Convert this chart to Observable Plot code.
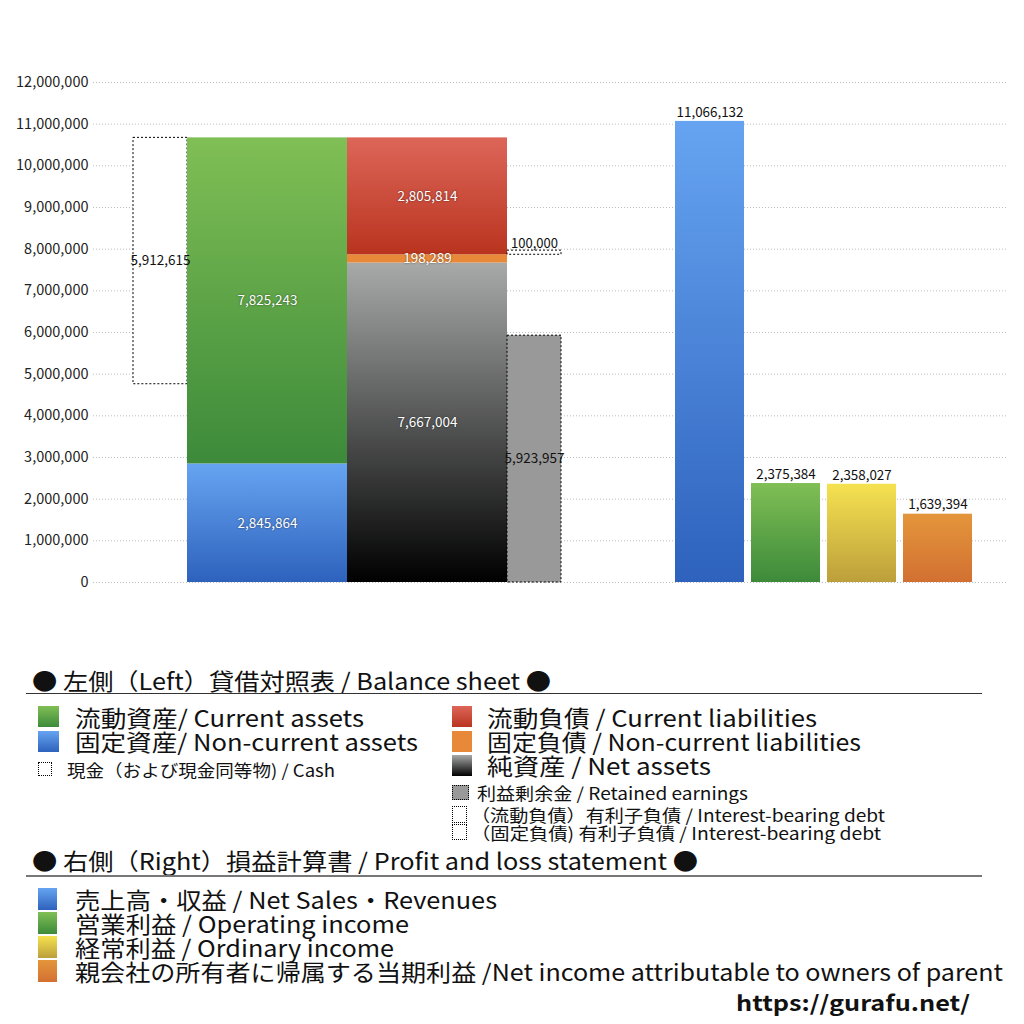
<!DOCTYPE html>
<html><head><meta charset="utf-8">
<script src="https://cdn.jsdelivr.net/npm/d3@7"></script>
<script src="https://cdn.jsdelivr.net/npm/@observablehq/plot@0.6"></script>
<style>
body{margin:0;background:#fff;font-family:"Noto Sans CJK JP","Noto Sans",sans-serif;}
#page{position:relative;width:1024px;height:1024px;overflow:hidden;}
.t{position:absolute;white-space:nowrap;color:#111;transform-origin:0 50%;}
.sq{position:absolute;}
.inlabel{text-shadow:0 0 2px rgba(0,0,0,0.6);}
</style></head>
<body><div id="page"><div id="chart"></div><div id="legend"></div></div>
<script>
// ---- data ----
const assetNames = ["固定資産", "流動資産"];
const assetValues = [2845864, 7825243];
const liabNames = ["純資産", "固定負債", "流動負債"];
const liabValues = [7667004, 198289, 2805814];
const cashValue = 5912615;
const retainedValue = 5923957;
const debtValue = 100000;
const plNames = ["売上高・収益", "営業利益", "経常利益", "親会社の所有者に帰属する当期利益"];
const plValues = [11066132, 2375384, 2358027, 1639394];
const yTicks = [0,1000000,2000000,3000000,4000000,5000000,6000000,7000000,8000000,9000000,10000000,11000000,12000000];

// ---- layout (x units) ----
const col = {cash:[40,94], assets:[94,254], liab:[254,414], side:[414,468]};
const plStart = 582, plW = 69, plStep = 76;
const fmt = d3.format(",");

const assetFills = ["url(#gBlue)", "url(#gGreen)"];
const liabFills = ["url(#gGray)", "#e8893a", "url(#gRed)"];
const plFills = ["url(#gBlue)", "url(#gGreen)", "url(#gYellow)", "url(#gOrange)"];

function stack(vals, names, fills, c){
  let acc = 0;
  return vals.map((v,i)=>{const r={name:names[i],v,y1:acc,y2:acc+v,x1:c[0],x2:c[1],fill:fills[i]}; acc+=v; return r;});
}
const assets = stack(assetValues, assetNames, assetFills, col.assets);
const liabs = stack(liabValues, liabNames, liabFills, col.liab);
const total = d3.sum(assetValues);
const cash = [{v:cashValue, y1:total-cashValue, y2:total, x1:col.cash[0], x2:col.cash[1]}];
const retained = [{v:retainedValue, y1:0, y2:retainedValue, x1:col.side[0], x2:col.side[1]}];
const debtBase = liabValues[0] + liabValues[1];
const debt = [{v:debtValue, y1:debtBase, y2:debtBase+debtValue, x1:col.side[0], x2:col.side[1]}];
const pl = plValues.map((v,i)=>({name:plNames[i], v, x1:plStart+i*plStep, x2:plStart+i*plStep+plW, fill:plFills[i]}));

const svg = Plot.plot({
  width:1024, height:600,
  marginLeft:93, marginRight:17, marginTop:82, marginBottom:18,
  style:{fontFamily:'"Noto Sans CJK JP","Noto Sans",sans-serif', background:"transparent"},
  x:{domain:[0,914], axis:null},
  y:{domain:[0,12000000], axis:null},
  marks:[
    Plot.ruleY(yTicks, {stroke:"#bbb", strokeDasharray:"1,2", strokeWidth:1}),
    Plot.axisY({ticks:yTicks, tickSize:0, tickPadding:5, tickFormat:fmt, fontSize:14.5, fill:"#222", label:null}),
    Plot.rect(cash, {x1:"x1", x2:"x2", y1:"y1", y2:"y2", fill:"white", stroke:"#000", strokeDasharray:"2,2", strokeWidth:1}),
    Plot.rect(assets, {x1:"x1", x2:"x2", y1:"y1", y2:"y2", fill:d=>d.fill}),
    Plot.rect(liabs, {x1:"x1", x2:"x2", y1:"y1", y2:"y2", fill:d=>d.fill}),
    Plot.rect(retained, {x1:"x1", x2:"x2", y1:"y1", y2:"y2", fill:"#999", stroke:"#000", strokeDasharray:"2,2", strokeWidth:1}),
    Plot.rect(debt, {x1:"x1", x2:"x2", y1:"y1", y2:"y2", fill:"white", stroke:"#000", strokeDasharray:"2,2", strokeWidth:1}),
    Plot.rect(pl, {x1:"x1", x2:"x2", y1:0, y2:"v", fill:d=>d.fill}),
    Plot.text(assets, {x:d=>(d.x1+d.x2)/2, y:d=>(d.y1+d.y2)/2, text:d=>fmt(d.v), fill:"white", fontSize:13.5, className:"inlabel"}),
    Plot.text(liabs, {x:d=>(d.x1+d.x2)/2, y:d=>(d.y1+d.y2)/2, text:d=>fmt(d.v), fill:"white", fontSize:13.5, className:"inlabel"}),
    Plot.text(cash, {x:d=>(d.x1+d.x2)/2, y:d=>(d.y1+d.y2)/2, text:d=>fmt(d.v), fill:"#111", fontSize:13.5}),
    Plot.text(retained, {x:d=>(d.x1+d.x2)/2, y:d=>(d.y1+d.y2)/2, text:d=>fmt(d.v), fill:"#111", fontSize:13.5}),
    Plot.text(debt, {x:d=>(d.x1+d.x2)/2, y:"y2", dy:-7, text:d=>fmt(d.v), fill:"#111", fontSize:13}),
    Plot.text(pl, {x:d=>(d.x1+d.x2)/2, y:"v", dy:-9, text:d=>fmt(d.v), fill:"#111", fontSize:13.4})
  ]
});

const defs = d3.select(svg).insert("defs", ":first-child");
const grads = {gGreen:["#80bf55","#3c8a3a"], gBlue:["#66a4f1","#2e62bd"], gRed:["#dd6659","#b9341f"], gGray:["#a8a9a9","#000000"], gYellow:["#f5e250","#bc9f3b"], gOrange:["#e4963b","#d27032"]};
for (const [id,[a,b]] of Object.entries(grads)){
  const g = defs.append("linearGradient").attr("id",id).attr("x1",0).attr("y1",0).attr("x2",0).attr("y2",1);
  g.append("stop").attr("offset","0%").attr("stop-color",a);
  g.append("stop").attr("offset","100%").attr("stop-color",b);
}
document.getElementById("chart").appendChild(svg);

// ---- legend ----
const L = document.getElementById("legend");
function txt(s, x, cy, size, endX, extra){
  const d=document.createElement("div"); d.className="t"; d.textContent=s;
  d.style.left=x+"px"; d.style.top=(cy-size/2)+"px"; d.style.fontSize=size+"px"; d.style.lineHeight=size+"px";
  if(extra) Object.assign(d.style, extra);
  L.appendChild(d);
  if(endX){ const w=d.getBoundingClientRect().width; d.style.transform=`scaleX(${(endX-x)/w})`; }
  return d;
}
function sq(x,y,w,h,bg,border){
  const d=document.createElement("div"); d.className="sq";
  d.style.left=x+"px"; d.style.top=y+"px"; d.style.width=w+"px"; d.style.height=h+"px";
  d.style.background=bg; if(border){d.style.border=border; d.style.boxSizing="border-box";}
  L.appendChild(d);
}
const G = (id)=>`linear-gradient(${grads[id][0]},${grads[id][1]})`;

txt("● 左側（Left）貸借対照表 / Balance sheet ●", 32, 680, 23, 551);
sq(26, 693, 956, 1, "#333");
sq(38,706,21,21,G("gGreen")); txt("流動資産/ Current assets", 75, 717, 23, 364);
sq(38,731,21,21,G("gBlue")); txt("固定資産/ Non-current assets", 75, 741, 23, 418);
sq(38,762,14,14,"#fff","1px dotted #000"); txt("現金（および現金同等物) / Cash", 67, 769, 17, 335);
sq(452,706,20,21,G("gRed")); txt("流動負債 /  Current liabilities", 487, 717, 23, 817);
sq(452,731,20,21,"#e8893a"); txt("固定負債 / Non-current liabilities", 487, 741, 23, 861);
sq(452,755,20,21,G("gGray")); txt("純資産 / Net assets", 487, 765, 23, 711);
sq(452,785,17,15,"#999","1px dotted #000"); txt("利益剰余金 / Retained earnings", 477, 792, 17, 748);
sq(452,806,15,17,"#fff","1px dotted #000"); txt("（流動負債）有利子負債 / Interest-bearing debt", 471, 814, 17, 885);
sq(452,824,15,16,"#fff","1px dotted #000"); txt("（固定負債) 有利子負債 / Interest-bearing debt", 471, 832, 17, 881);

txt("● 右側（Right）損益計算書 / Profit and loss statement ●", 32, 860, 23, 698);
sq(26, 875, 956, 2, "#777");
sq(38,888,19,22,G("gBlue")); txt("売上高・収益 / Net Sales・Revenues", 75, 899, 23, 497);
sq(38,912,19,22,G("gGreen")); txt("営業利益 / Operating income", 75, 923, 23, 409);
sq(38,936,19,22,G("gYellow")); txt("経常利益 / Ordinary income", 75, 947, 23, 394);
sq(38,960,19,22,G("gOrange")); txt("親会社の所有者に帰属する当期利益 /Net income attributable to owners of parent", 75, 971, 23, 1003);
txt("https://gurafu.net/", 736, 1002, 21, 970, {fontWeight:"bold"});
</script></body></html>
